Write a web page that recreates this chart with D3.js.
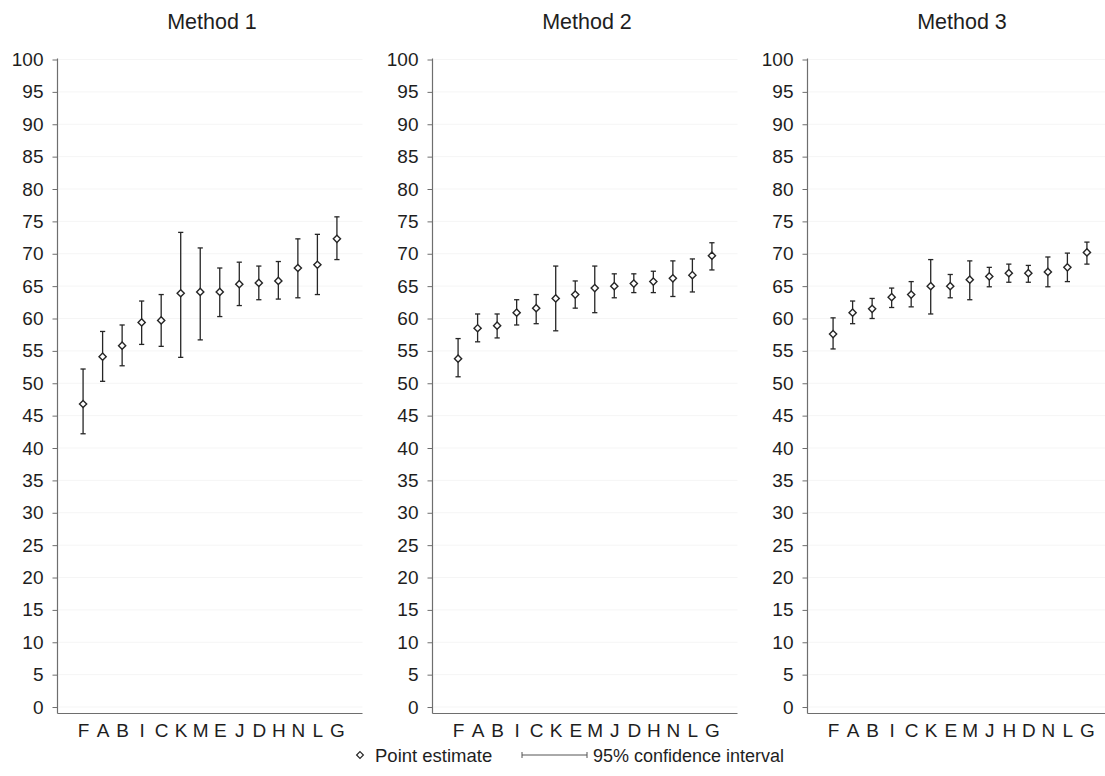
<!DOCTYPE html>
<html>
<head>
<meta charset="utf-8">
<script src="https://cdn.jsdelivr.net/npm/d3@7"></script>
<style>
  html, body { margin: 0; padding: 0; background: #fff; }
  svg { display: block; font-family: "Liberation Sans", Arial, sans-serif; }
</style>
</head>
<body>
<svg id="chart" width="1105" height="776"></svg>
<script>
// Panel titles
const methods = ["Method 1", "Method 2", "Method 3"];

// Category order per method (sorted by point estimate)
const categories1 = ["F","A","B","I","C","K","M","E","J","D","H","N","L","G"];
const categories2 = ["F","A","B","I","C","K","E","M","J","D","H","N","L","G"];
const categories3 = ["F","A","B","I","C","K","E","M","J","H","D","N","L","G"];

// Method 1: point estimates and 95% CI bounds
const estimate1 = [46.8, 54.1, 55.8, 59.4, 59.7, 63.9, 64.1, 64.1, 65.3, 65.5, 65.8, 67.8, 68.3, 72.3];
const lower1    = [42.2, 50.3, 52.7, 56.0, 55.7, 54.0, 56.7, 60.3, 62.0, 62.9, 63.0, 63.2, 63.7, 69.1];
const upper1    = [52.2, 58.0, 59.0, 62.7, 63.7, 73.3, 70.9, 67.8, 68.7, 68.1, 68.8, 72.3, 73.0, 75.7];

// Method 2
const estimate2 = [53.8, 58.5, 58.9, 60.9, 61.6, 63.1, 63.7, 64.7, 65.0, 65.4, 65.7, 66.2, 66.7, 69.7];
const lower2    = [51.0, 56.4, 57.0, 59.0, 59.2, 58.1, 61.6, 60.9, 63.2, 64.0, 64.0, 63.4, 64.1, 67.5];
const upper2    = [56.9, 60.7, 60.7, 62.9, 63.7, 68.1, 65.8, 68.1, 66.9, 66.9, 67.3, 68.9, 69.2, 71.7];

// Method 3
const estimate3 = [57.6, 60.9, 61.5, 63.3, 63.7, 65.0, 65.0, 66.0, 66.5, 67.0, 67.0, 67.2, 67.9, 70.2];
const lower3    = [55.3, 59.2, 60.0, 61.7, 61.8, 60.7, 63.2, 62.9, 64.9, 65.6, 65.6, 64.9, 65.7, 68.4];
const upper3    = [60.1, 62.7, 63.1, 64.7, 65.7, 69.1, 66.8, 68.9, 67.9, 68.4, 68.2, 69.5, 70.1, 71.8];

// Y axis ticks
const yTicks = d3.range(0, 101, 5);

// Legend labels
const legendPoint = "Point estimate";
const legendCI = "95% confidence interval";

const panels = [
  { title: methods[0], cats: categories1, est: estimate1, lo: lower1, hi: upper1 },
  { title: methods[1], cats: categories2, est: estimate2, lo: lower2, hi: upper2 },
  { title: methods[2], cats: categories3, est: estimate3, lo: lower3, hi: upper3 }
];

const svg = d3.select("#chart");
const axisColor = "#6e6e6e";
const markColor = "#262626";
const textColor = "#1e1e1e";

const panelLeft = [57.5, 432.5, 807.5];
const panelWidth = 305;

const y = d3.scaleLinear().domain([-1, 100]).range([713.5, 59.5]);

// Small diamond marker path centred on (0,0)
function diamond(r) {
  return `M0,${-r}L${r},0L0,${r}L${-r},0Z`;
}

panels.forEach((p, i) => {
  const left = panelLeft[i];
  const g = svg.append("g").attr("transform", `translate(${left},0)`);

  const x = d3.scalePoint()
    .domain(p.cats)
    .range([0, panelWidth])
    .padding(1.31);

  // faint horizontal gridlines
  g.append("g")
    .selectAll("line")
    .data(yTicks)
    .join("line")
    .attr("x1", 1).attr("x2", panelWidth)
    .attr("y1", d => y(d)).attr("y2", d => y(d))
    .attr("stroke", "#f5f5f5")
    .attr("stroke-width", 1);

  // title
  g.append("text")
    .attr("x", panelWidth / 2 + 2)
    .attr("y", 29)
    .attr("text-anchor", "middle")
    .attr("font-size", 21.5)
    .attr("fill", textColor)
    .text(p.title);

  // y axis
  const yAxis = d3.axisLeft(y)
    .tickValues(yTicks)
    .tickSize(5)
    .tickPadding(9)
    .tickFormat(d3.format("d"));
  const ya = g.append("g").call(yAxis);
  ya.select(".domain").remove();
  ya.selectAll(".tick line").attr("stroke", axisColor);
  ya.selectAll(".tick text")
    .attr("font-size", 19)
    .attr("font-family", "\"Liberation Sans\", Arial, sans-serif")
    .attr("fill", textColor);
  g.append("line")
    .attr("x1", 0).attr("x2", 0)
    .attr("y1", y(100) - 1).attr("y2", y(-1))
    .attr("stroke", axisColor).attr("stroke-width", 1.2);

  // x axis
  const xAxis = d3.axisBottom(x).tickSize(0).tickPadding(10);
  const xa = g.append("g").attr("transform", `translate(0,${y(-1)})`).call(xAxis);
  xa.select(".domain").remove();
  xa.selectAll(".tick text")
    .attr("font-size", 19)
    .attr("font-family", "\"Liberation Sans\", Arial, sans-serif")
    .attr("fill", textColor);
  g.append("line")
    .attr("x1", 0).attr("x2", panelWidth)
    .attr("y1", y(-1)).attr("y2", y(-1))
    .attr("stroke", axisColor).attr("stroke-width", 1.2);

  const rows = p.cats.map((c, k) => ({ c, est: p.est[k], lo: p.lo[k], hi: p.hi[k] }));

  // confidence intervals
  const ci = g.append("g")
    .selectAll("g")
    .data(rows)
    .join("g")
    .attr("stroke", markColor)
    .attr("stroke-width", 1.3);
  ci.append("line")
    .attr("x1", d => x(d.c)).attr("x2", d => x(d.c))
    .attr("y1", d => y(d.hi)).attr("y2", d => y(d.lo));
  ci.append("line")
    .attr("x1", d => x(d.c) - 2.6).attr("x2", d => x(d.c) + 2.6)
    .attr("y1", d => y(d.hi)).attr("y2", d => y(d.hi));
  ci.append("line")
    .attr("x1", d => x(d.c) - 2.6).attr("x2", d => x(d.c) + 2.6)
    .attr("y1", d => y(d.lo)).attr("y2", d => y(d.lo));

  // point estimates
  g.append("g")
    .selectAll("path")
    .data(rows)
    .join("path")
    .attr("d", diamond(3.6))
    .attr("transform", d => `translate(${x(d.c)},${y(d.est)})`)
    .attr("fill", "#fff")
    .attr("stroke", markColor)
    .attr("stroke-width", 1.4);
});

// legend
const lg = svg.append("g");
lg.append("path")
  .attr("d", diamond(3.4))
  .attr("transform", "translate(360,755)")
  .attr("fill", "#fff")
  .attr("stroke", markColor)
  .attr("stroke-width", 1.2);
lg.append("text")
  .attr("x", 375).attr("y", 761.5)
  .attr("font-size", 18.5)
  .attr("fill", textColor)
  .text(legendPoint);
lg.append("line")
  .attr("x1", 522).attr("x2", 587).attr("y1", 755).attr("y2", 755)
  .attr("stroke", "#555").attr("stroke-width", 1);
[522, 587].forEach(px => {
  lg.append("line")
    .attr("x1", px).attr("x2", px).attr("y1", 752).attr("y2", 758)
    .attr("stroke", "#555").attr("stroke-width", 1);
});
lg.append("text")
  .attr("x", 593).attr("y", 761.5)
  .attr("font-size", 18)
  .attr("fill", textColor)
  .text(legendCI);
</script>
</body>
</html>
